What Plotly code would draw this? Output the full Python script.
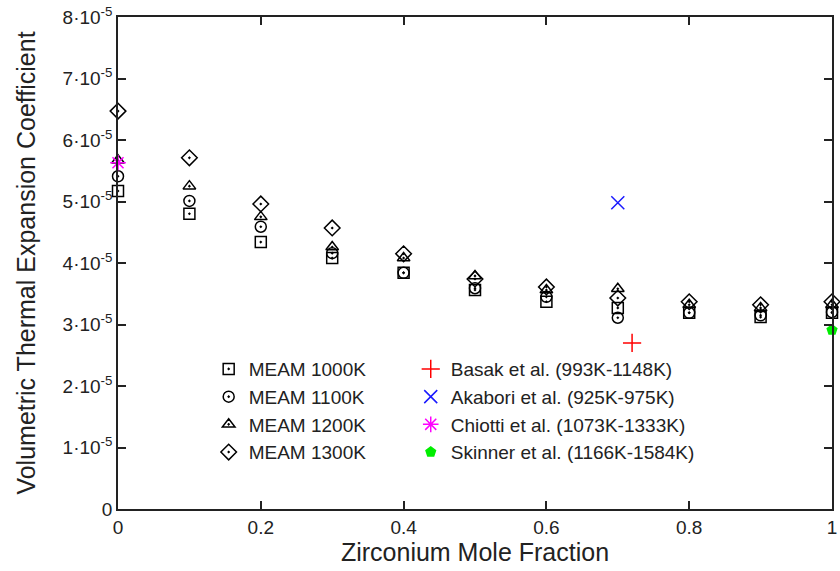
import plotly.graph_objects as go

zr_fraction = [0.0, 0.1, 0.2, 0.3, 0.4, 0.5, 0.6, 0.7, 0.8, 0.9, 1.0]

meam_1000k = [5.17e-5, 4.80e-5, 4.34e-5, 4.08e-5, 3.84e-5, 3.56e-5, 3.37e-5, 3.27e-5, 3.19e-5, 3.12e-5, 3.19e-5]
meam_1100k = [5.41e-5, 5.01e-5, 4.59e-5, 4.16e-5, 3.84e-5, 3.59e-5, 3.45e-5, 3.11e-5, 3.19e-5, 3.15e-5, 3.20e-5]
meam_1200k = [5.67e-5, 5.25e-5, 4.75e-5, 4.26e-5, 4.08e-5, 3.79e-5, 3.56e-5, 3.58e-5, 3.32e-5, 3.27e-5, 3.32e-5]
meam_1300k = [6.47e-5, 5.71e-5, 4.96e-5, 4.57e-5, 4.15e-5, 3.74e-5, 3.61e-5, 3.43e-5, 3.37e-5, 3.32e-5, 3.37e-5]

basak_x, basak_y = [0.72], [2.70e-5]
akabori_x, akabori_y = [0.70], [4.98e-5]
chiotti_x, chiotti_y = [0.0], [5.63e-5]
skinner_x, skinner_y = [1.0], [2.91e-5]

y_tick_vals = [0, 1e-5, 2e-5, 3e-5, 4e-5, 5e-5, 6e-5, 7e-5, 8e-5]
y_tick_text = ["0"] + [f"{i}·10<sup>-5</sup>" for i in range(1, 9)]
x_tick_vals = [0, 0.2, 0.4, 0.6, 0.8, 1.0]
x_tick_text = ["0", "0.2", "0.4", "0.6", "0.8", "1"]

FONT = "Liberation Sans, Arial, sans-serif"
fig = go.Figure()

meam = [
    ("MEAM 1000K", meam_1000k, "square-open-dot", 11),
    ("MEAM 1100K", meam_1100k, "circle-open-dot", 11),
    ("MEAM 1200K", meam_1200k, "triangle-up-open-dot", 11),
    ("MEAM 1300K", meam_1300k, "diamond-open-dot", 12),
]
for name, ys, sym, sz in meam:
    fig.add_trace(go.Scatter(
        x=zr_fraction, y=ys, mode="markers", name=name, legend="legend",
        cliponaxis=False,
        marker=dict(symbol=sym, size=sz, color="black", line=dict(width=1.5, color="black")),
    ))

exper = [
    ("Basak et al. (993K-1148K)", basak_x, basak_y, "cross-thin-open", 13, "#ff0000"),
    ("Akabori et al. (925K-975K)", akabori_x, akabori_y, "x-thin-open", 13, "#1a1aff"),
    ("Chiotti et al. (1073K-1333K)", chiotti_x, chiotti_y, "asterisk-open", 13, "#ff00ff"),
    ("Skinner et al. (1166K-1584K)", skinner_x, skinner_y, "pentagon", 10, "#00ee00"),
]
for name, xs, ys, sym, sz, col in exper:
    fig.add_trace(go.Scatter(
        x=xs, y=ys, mode="markers", name=name, legend="legend2",
        cliponaxis=False,
        marker=dict(symbol=sym, size=sz, color=col, line=dict(width=1.5, color=col)),
    ))

axis_common = dict(
    showline=True, linecolor="#222", linewidth=1.5, mirror="ticks",
    ticks="inside", ticklen=8, tickwidth=1.5, tickcolor="#222",
    showgrid=False, zeroline=False, ticklabeloverflow="allow",
    tickfont=dict(family=FONT, size=19, color="#222"),
)

fig.update_xaxes(range=[0, 1], tickvals=x_tick_vals, ticktext=x_tick_text,
                 title=dict(text="Zirconium Mole Fraction", font=dict(family=FONT, size=25, color="#222"), standoff=2),
                 **axis_common)
fig.update_yaxes(range=[0, 8e-5], tickvals=y_tick_vals, ticktext=y_tick_text,
                 title=dict(text="Volumetric Thermal Expansion Coefficient", font=dict(family=FONT, size=25, color="#222"), standoff=20),
                 **axis_common)

legend_common = dict(
    bgcolor="rgba(0,0,0,0)", borderwidth=0,
    font=dict(family=FONT, size=19, color="#222"),
    yanchor="top", y=0.323, tracegroupgap=0, itemwidth=30,
)
fig.update_layout(
    width=840, height=571,
    margin=dict(l=118, r=3, t=17, b=62),
    plot_bgcolor="white", paper_bgcolor="white",
    showlegend=True,
    legend=dict(x=0.127, xanchor="left", **legend_common),
    legend2=dict(x=0.41, xanchor="left", **legend_common),
)

fig.write_html("out.html")
